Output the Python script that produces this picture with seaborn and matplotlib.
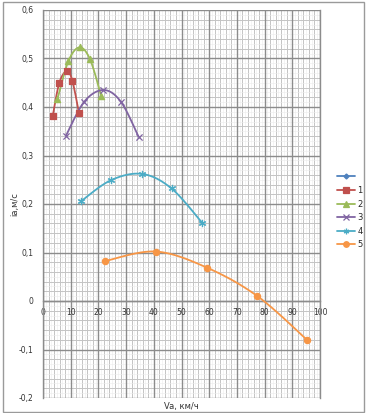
import numpy as np
import pandas as pd
import matplotlib
matplotlib.use("Agg")
import matplotlib.pyplot as plt
import matplotlib.ticker as mticker
from matplotlib.lines import Line2D
from matplotlib.patches import Rectangle
import seaborn as sns

# ---- data ----
s1_x = [3.5, 5.9, 8.6, 10.6, 13.0]
s1_y = [0.381, 0.450, 0.474, 0.454, 0.387]
s2_x = [5.2, 9.2, 13.2, 17.0, 21.0]
s2_y = [0.416, 0.495, 0.523, 0.498, 0.423]
s3_x = [8.3, 14.9, 21.8, 28.1, 34.5]
s3_y = [0.341, 0.411, 0.435, 0.411, 0.339]
s4_x = [13.8, 24.5, 35.8, 46.4, 57.5]
s4_y = [0.206, 0.249, 0.262, 0.232, 0.161]
s5_x = [22.5, 40.7, 59.1, 77.4, 95.3]
s5_y = [0.0825, 0.102, 0.069, 0.010, -0.080]

series_names = ["1", "2", "3", "4", "5"]
series_x = [s1_x, s2_x, s3_x, s4_x, s5_x]
series_y = [s1_y, s2_y, s3_y, s4_y, s5_y]
colors = ["#C0504D", "#9BBB59", "#8064A2", "#4BACC6", "#F79646"]
markers = ["s", "^", "x", (6, 2, 0), "o"]
blank_color = "#4F81BD"

x_ticks = list(range(0, 101, 10))
y_ticks = [-0.2, -0.1, 0.0, 0.1, 0.2, 0.3, 0.4, 0.5, 0.6]
x_label = "Va, км/ч"
y_label = "ia,м/с"

rows = []
for n, xs, ys in zip(series_names, series_x, series_y):
    for xv, yv in zip(xs, ys):
        rows.append({"series": n, "x": xv, "y": yv})
df = pd.DataFrame(rows)


def smooth(xs, ys, steps=20):
    p = np.column_stack([xs, ys]).astype(float)
    ext = np.vstack([p[0], p, p[-1]])
    out = []
    t = np.linspace(0, 1, steps)[:, None]
    for i in range(1, len(ext) - 2):
        p0, p1, p2, p3 = ext[i - 1], ext[i], ext[i + 1], ext[i + 2]
        c1 = p1 + (p2 - p0) / 6.0
        c2 = p2 - (p3 - p1) / 6.0
        seg = ((1 - t) ** 3) * p1 + 3 * ((1 - t) ** 2) * t * c1 + 3 * (1 - t) * t ** 2 * c2 + t ** 3 * p2
        out.append(seg if i == 1 else seg[1:])
    a = np.vstack(out)
    return a[:, 0], a[:, 1]


sns.set_style("white")
plt.rcParams["font.family"] = ["DejaVu Sans"]

fig = plt.figure(figsize=(3.66, 4.13), dpi=100)
ax = fig.add_axes([43 / 366, 1 - 398 / 413, (320 - 43) / 366, (398 - 10) / 413])

ax.set_xlim(0, 100)
ax.set_ylim(-0.2, 0.6)

# grid
ax.set_xticks(x_ticks)
ax.set_yticks(y_ticks)
for v in np.arange(0, 100.1, 1):
    if v % 10 == 0:
        continue
    c, w = ("#c4c4c4", 0.7) if v % 2 == 0 else ("#ececec", 0.4)
    ax.axvline(v, color=c, lw=w, zorder=0)
for v in np.arange(-0.2, 0.6001, 0.01):
    k = int(round(v * 100))
    if k % 10 == 0:
        continue
    c, w = ("#c4c4c4", 0.7) if k % 2 == 0 else ("#ececec", 0.4)
    ax.axhline(v, color=c, lw=w, zorder=0)
for v in x_ticks:
    ax.axvline(v, color="#8c8c8c", lw=1.0, zorder=0.5)
for v in y_ticks:
    ax.axhline(v, color="#8c8c8c", lw=1.0, zorder=0.5)

ax.spines["top"].set_visible(False)
ax.spines["bottom"].set_position(("data", 0))
for s in ["left", "bottom", "right"]:
    ax.spines[s].set_color("#8c8c8c")
    ax.spines[s].set_linewidth(1.0)


def yfmt(v, p):
    if abs(v) < 1e-9:
        return "0"
    return f"{v:.1f}".replace(".", ",")


ax.xaxis.set_major_formatter(mticker.FuncFormatter(lambda v, p: f"{v:g}"))
ax.yaxis.set_major_formatter(mticker.FuncFormatter(yfmt))
ax.tick_params(axis="both", labelsize=5.5, colors="#333333", length=2, pad=5, width=0.6)
ax.tick_params(axis="x", pad=3)

# lines + markers
for n, c, m in zip(series_names, colors, markers):
    sub = df[df["series"] == n]
    sx, sy = smooth(sub["x"].values, sub["y"].values)
    ax.plot(sx, sy, color=c, lw=1.3, zorder=3)
    if m == "x":
        sns.scatterplot(data=sub, x="x", y="y", color=c, marker=m, s=20,
                        linewidth=0.9, legend=False, ax=ax, zorder=4)
    else:
        sns.scatterplot(data=sub, x="x", y="y", color=c, marker=m, s=20,
                        linewidth=0.9, edgecolor=c, legend=False, ax=ax, zorder=4)

ax.set_xlabel(x_label, fontsize=6, color="#333333", labelpad=1)
ax.xaxis.set_label_coords(0.5, -0.01)
ax.set_ylabel(y_label, fontsize=6, color="#333333")
ax.yaxis.set_label_coords(-0.085, 0.5)

handles = [Line2D([], [], color=blank_color, marker="D", markersize=2.5, lw=1.3)]
for c, m in zip(colors, markers):
    handles.append(Line2D([], [], color=c, marker=m, markersize=4, lw=1.3,
                          markeredgecolor=c, markeredgewidth=0.9))
labels = [""] + series_names
leg = fig.legend(handles, labels, loc="upper left", bbox_to_anchor=(334 / 366, 1 - 169 / 413),
                 frameon=False, fontsize=6, handlelength=2.1, handletextpad=0.3,
                 labelspacing=0.55, borderaxespad=0)

fig.patches.append(Rectangle((3 / 366, 1 / 413), 361 / 366, 410 / 413, transform=fig.transFigure,
                             fill=False, edgecolor="#9a9a9a", lw=1.0))

fig.savefig("out.png", dpi=100)
